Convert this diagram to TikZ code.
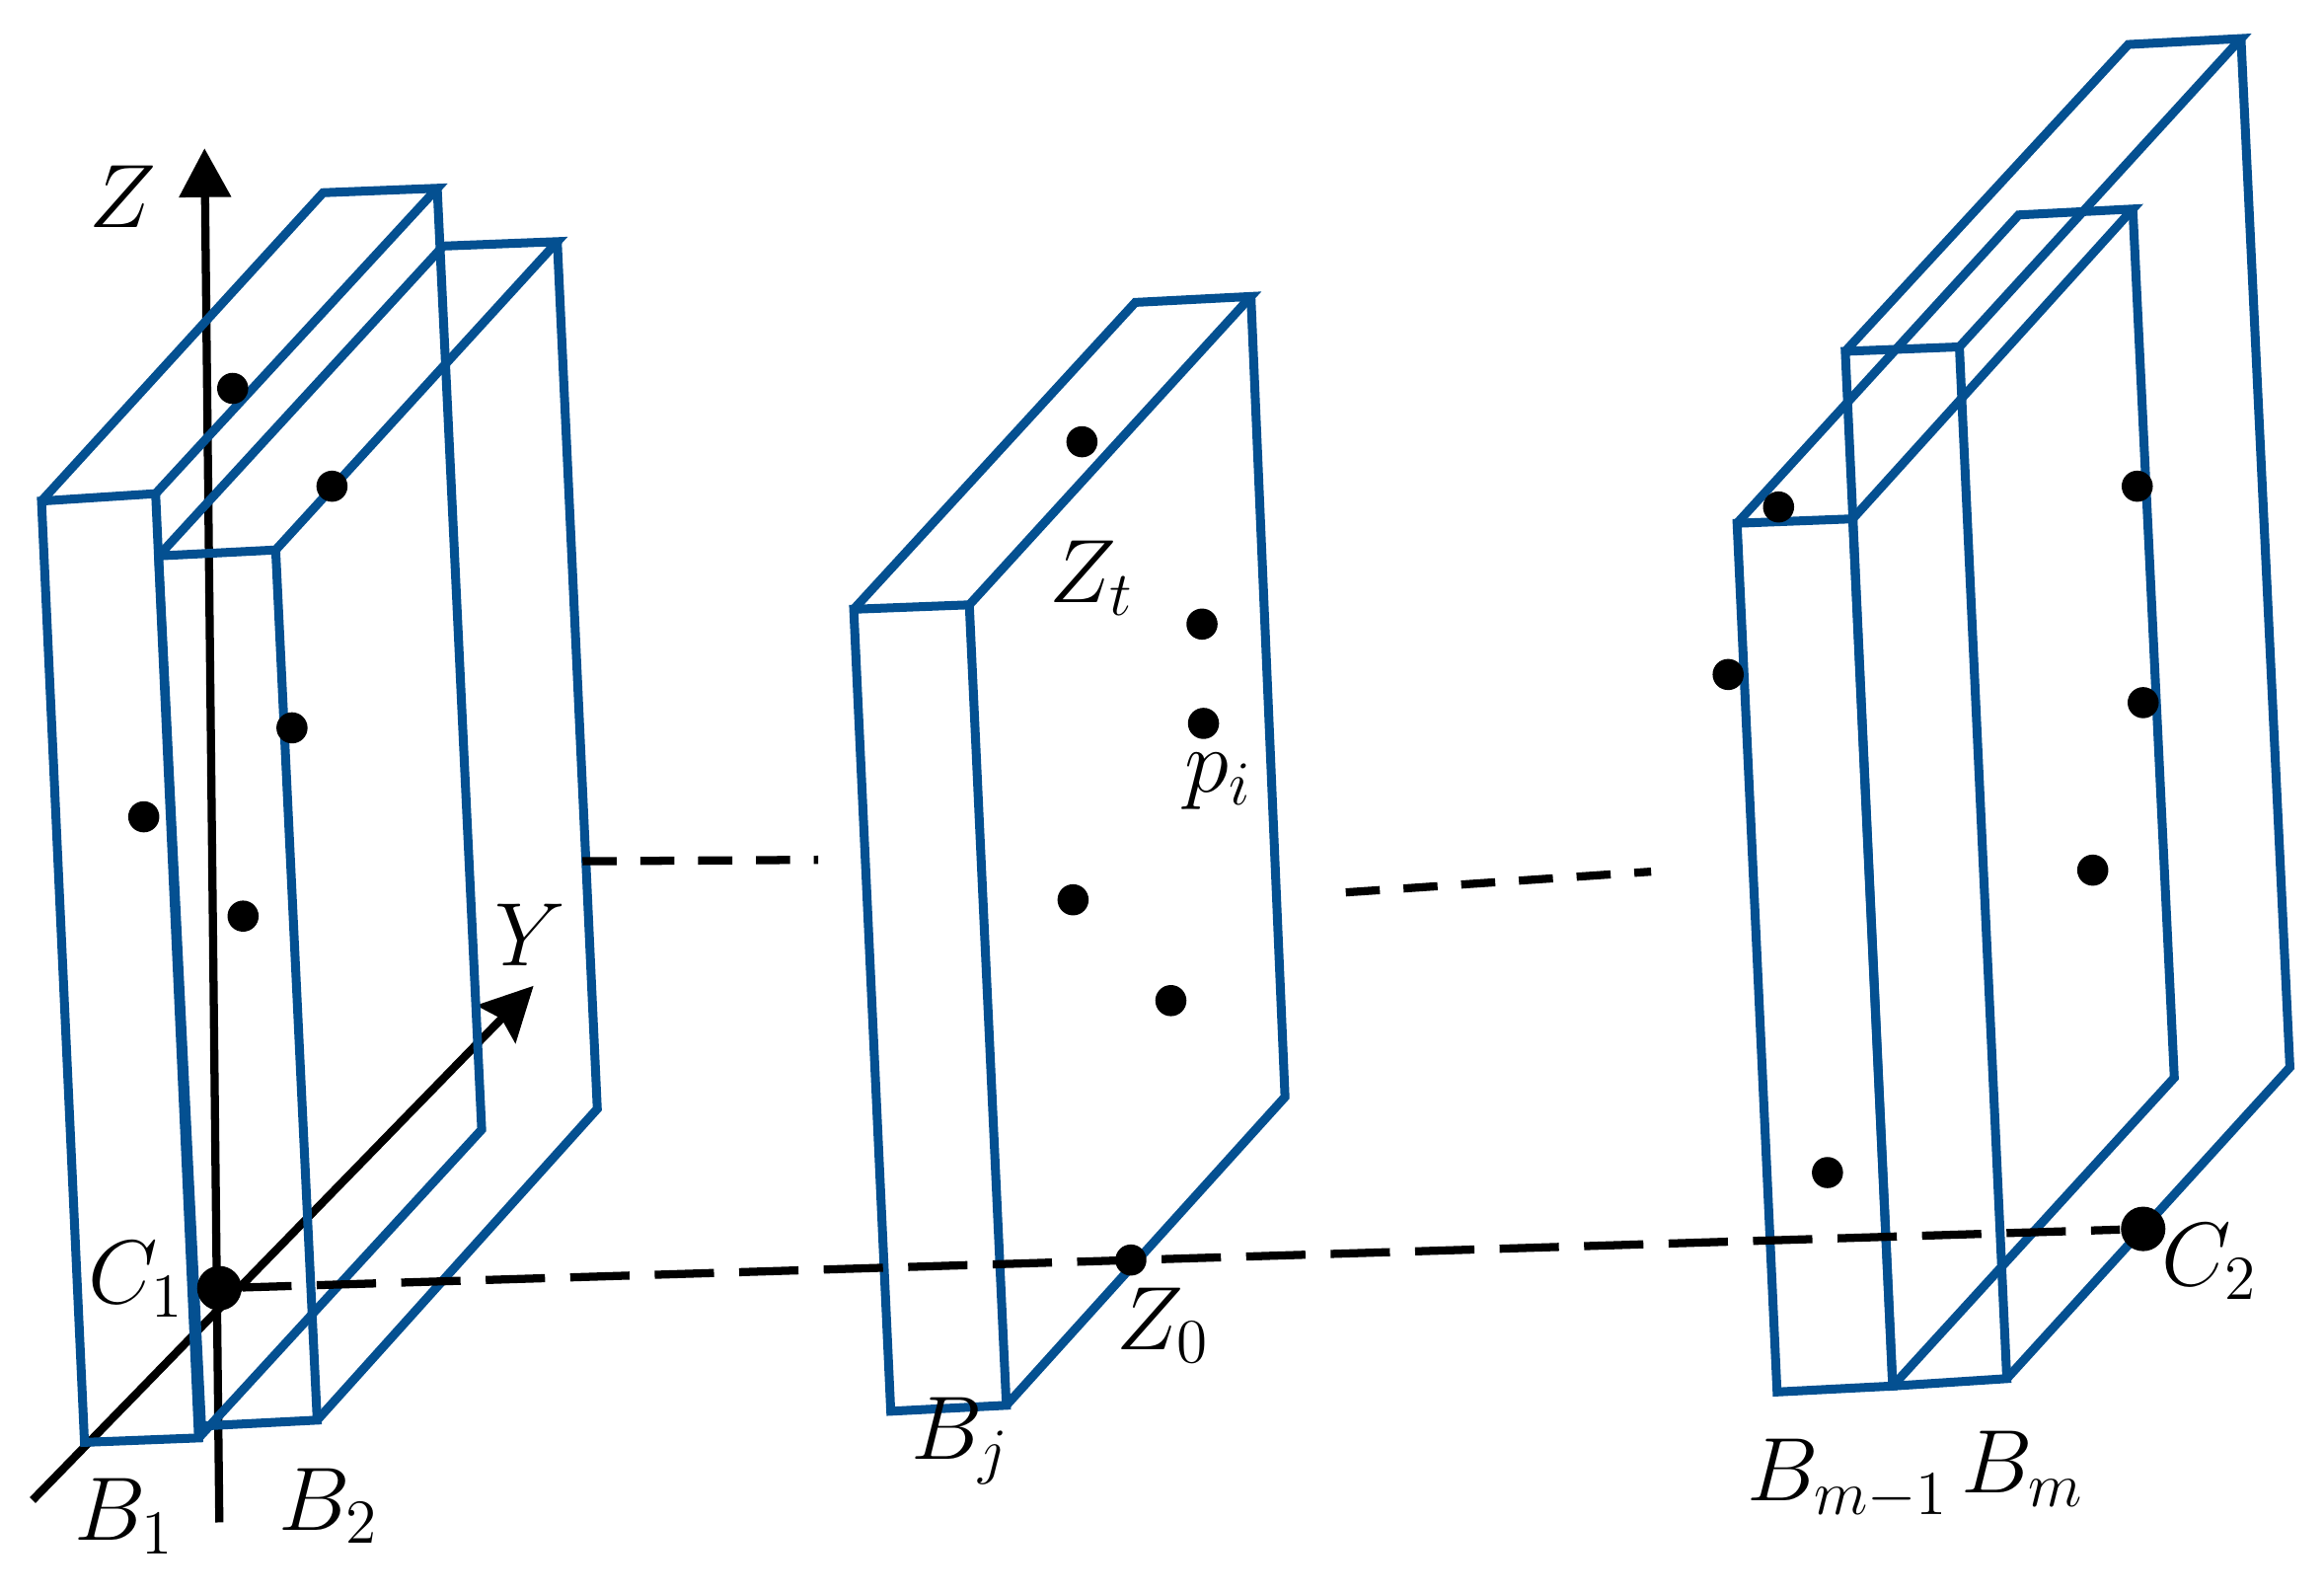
\documentclass[tikz,border=0pt]{standalone}
\usepackage{amsmath}
\usepackage{amssymb}
\usetikzlibrary{arrows.meta,positioning}
\definecolor{slabblue}{RGB}{4,80,145}
\DeclareMathSizes{16}{16}{12.5}{10}

\begin{document}
\begin{tikzpicture}[x=0.01cm,y=-0.01cm,font=\fontsize{16}{19}\selectfont]
	\tikzset{axis/.style={black,line width=0.055cm}}
	\tikzset{slab/.style={slabblue,line width=0.06cm,line join=miter}}
	\tikzset{track/.style={black,line width=0.055cm}}
	\tikzset{pt/.style={circle,fill=black,inner sep=0pt,minimum size=0.21cm}}
	\tikzset{bigpt/.style={circle,fill=black,inner sep=0pt,minimum size=0.3cm}}
	\useasboundingbox (0,0) rectangle (1568,1075);
	% axes
	\coordinate (Zbot) at (148,1027);
	\coordinate (Ztop) at (138,100);
	\coordinate (Ybot) at (22,1012);
	\coordinate (Ytop) at (360,665);
	\draw[axis,-{Stealth[inset=0pt,length=0.33cm,width=0.34cm]}] (Zbot) -- (Ztop);
	\draw[axis,-{Stealth[inset=0.05cm,length=0.36cm,width=0.36cm]}] (Ybot) -- (Ytop);
	% boxes
	\draw[slab] (105,333) -- (28,338) -- (57,973) -- (134,970) -- cycle;
	\draw[slab] (28,338) -- (218,130) -- (295,127) -- (105,333);
	\draw[slab] (295,127) -- (325,762) -- (134,970);
	\draw[slab] (186,371) -- (107,375) -- (136,962) -- (214,958) -- cycle;
	\draw[slab] (107,375) -- (299,166) -- (376,163) -- (186,371);
	\draw[slab] (376,163) -- (403,748) -- (214,958);
	\draw[slab] (654,408) -- (576,411) -- (601,952) -- (679,948) -- cycle;
	\draw[slab] (576,411) -- (766,204) -- (844,200) -- (654,408);
	\draw[slab] (844,200) -- (867,740) -- (679,948);
	\draw[slab] (1250,350) -- (1172,353) -- (1199,939) -- (1277,935) -- cycle;
	\draw[slab] (1172,353) -- (1362,145) -- (1439,141) -- (1250,350);
	\draw[slab] (1439,141) -- (1467,727) -- (1277,935);
	\draw[slab] (1322,234) -- (1245,237) -- (1277,935) -- (1354,930) -- cycle;
	\draw[slab] (1245,237) -- (1436,30) -- (1512,26) -- (1322,234);
	\draw[slab] (1512,26) -- (1545,720) -- (1354,930);
	% centres and dashed lines
	\node[bigpt] (C1) at (148,869) {};
	\node[bigpt] (C2) at (1446,829) {};
	\coordinate (D1) at (393,581);
	\coordinate (D2) at (552,580);
	\coordinate (D3) at (908,602);
	\coordinate (D4) at (1114,588);
	\draw[track,dash pattern=on 0.4cm off 0.17cm,dash phase=0.07cm] (C1) -- (C2);
	\draw[track,dash pattern=on 0.23cm off 0.16cm] (D1) -- (D2);
	\draw[track,dash pattern=on 0.23cm off 0.16cm] (D3) -- (D4);
	% points
	\node[pt] (p1) at (157,262) {};
	\node[pt] (p2) at (224,328) {};
	\node[pt] (p3) at (197,491) {};
	\node[pt] (p4) at (97,551) {};
	\node[pt] (p5) at (164,618) {};
	\node[pt] (p6) at (730,298) {};
	\node[pt] (p7) at (811,421) {};
	\node[pt] (p8) at (812,488) {};
	\node[pt] (p9) at (724,607) {};
	\node[pt] (p10) at (790,675) {};
	\node[pt] (p11) at (763,850) {};
	\node[pt] (p12) at (1200,342) {};
	\node[pt] (p13) at (1166,455) {};
	\node[pt] (p14) at (1233,791) {};
	\node[pt] (p15) at (1442,328) {};
	\node[pt] (p16) at (1446,474) {};
	\node[pt] (p17) at (1412,587) {};
	% labels
	\node (Zlab) at (83,133) {$Z$};
	\node (Ylab) at (358,631) {$Y$};
	\node (C1lab) at (92,863) {$C_1$};
	\node (C2lab) at (1491,851) {$C_2$};
	\node (B1lab) at (84,1023) {$B_1$};
	\node (B2lab) at (222,1016) {$B_2$};
	\node (Bjlab) at (648,972) {$B_j$};
	\node (Z0lab) at (785,894) {$Z_0$};
	\node (Ztlab) at (737,390) {$Z_t$};
	\node (pilab) at (822,527) {$p_i$};
	\node (Bm1lab) at (1247,998) {$B_{m-1}$};
	\node (Bmlab) at (1365,991) {$B_m$};
\end{tikzpicture}
\end{document}
